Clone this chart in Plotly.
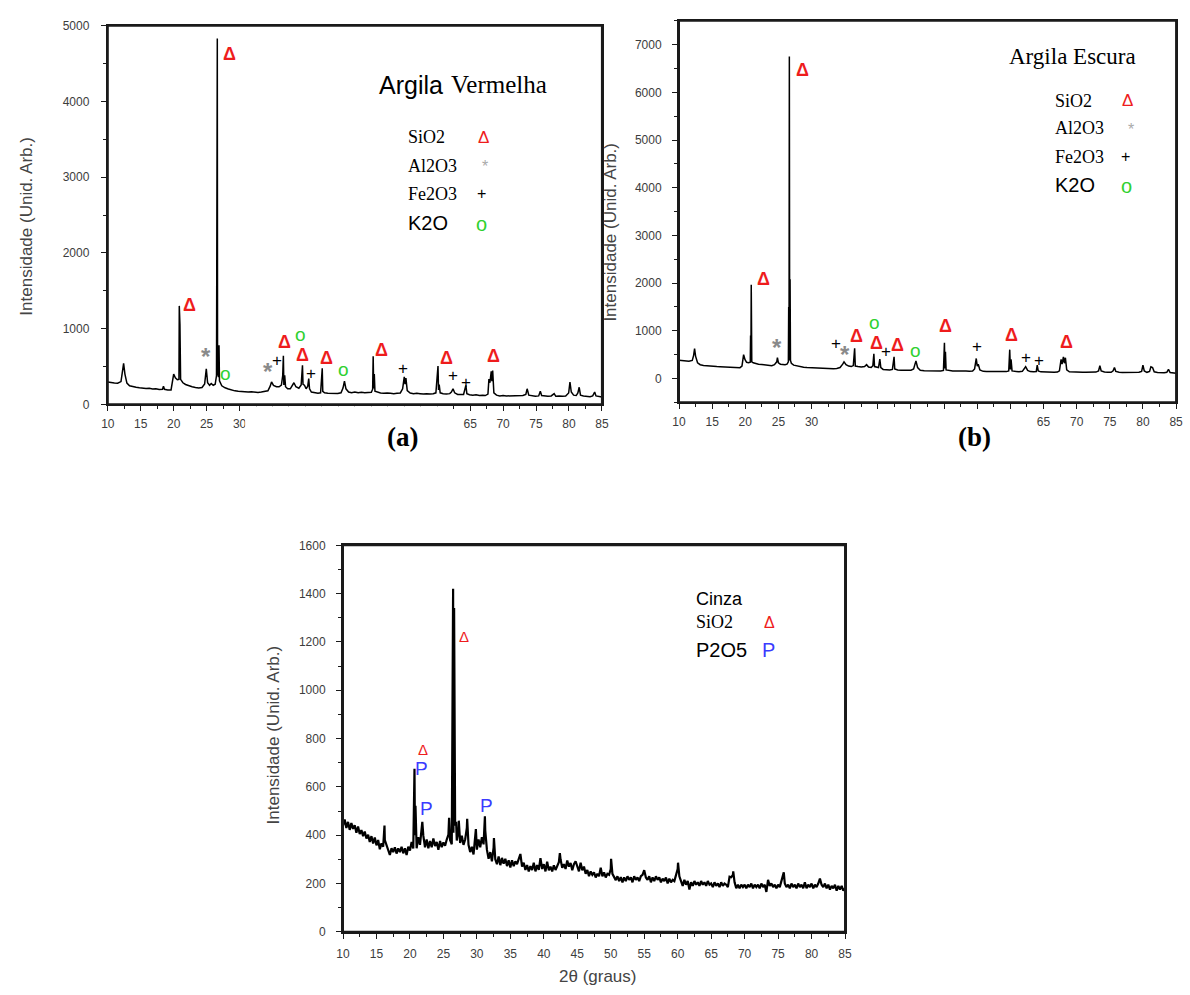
import plotly.graph_objects as go

# ---------------------------------------------------------------
# Difratogramas de raios X: (2θ em graus, intensidade em unid. arb.)
# ---------------------------------------------------------------

argila_vermelha = [
    (10.0, 295), (10.5, 285), (11.0, 282), (11.5, 278), (12.0, 300), (12.2, 420), (12.4, 540),
    (12.6, 400), (12.9, 280), (13.3, 245), (13.8, 232), (14.3, 226), (14.8, 218), (15.3, 212),
    (15.8, 208), (16.3, 212), (16.8, 203), (17.3, 206), (17.8, 197), (18.3, 200), (18.45, 240),
    (18.6, 198), (19.1, 188), (19.6, 190), (19.85, 300), (20.0, 400), (20.25, 350), (20.55, 325),
    (20.8, 330), (20.85, 1300), (20.9, 420), (20.95, 1055), (21.05, 330), (21.4, 285), (21.8, 262),
    (22.3, 243), (22.8, 232), (23.3, 222), (23.8, 216), (24.3, 222), (24.7, 270), (24.95, 470),
    (25.15, 285), (25.45, 252), (25.7, 275), (26.0, 252), (26.3, 265), (26.5, 380), (26.56, 3270),
    (26.62, 4830), (26.66, 420), (26.8, 360), (26.88, 780), (26.95, 310), (27.3, 245), (27.8, 218),
    (28.3, 203), (28.8, 188), (29.3, 178), (29.8, 172), (30.3, 168), (30.8, 172), (31.3, 162),
    (31.8, 167), (32.3, 161), (32.8, 157), (33.3, 162), (33.8, 166), (34.3, 178), (34.65, 240),
    (34.85, 295), (35.15, 250), (35.6, 232), (36.0, 232), (36.35, 255), (36.55, 380), (36.65, 640),
    (36.72, 255), (36.85, 385), (36.98, 232), (37.3, 205), (37.7, 205), (38.0, 240), (38.25, 285),
    (38.55, 232), (39.0, 212), (39.35, 255), (39.55, 515), (39.63, 265), (39.85, 252), (40.1, 205),
    (40.35, 240), (40.5, 340), (40.62, 205), (40.9, 162), (41.4, 152), (41.9, 147), (42.3, 152),
    (42.55, 475), (42.63, 172), (42.9, 152), (43.4, 147), (43.9, 142), (44.4, 147), (44.9, 142),
    (45.4, 152), (45.7, 215), (45.92, 305), (46.15, 205), (46.55, 162), (47.0, 152), (47.5, 162),
    (48.0, 152), (48.5, 160), (49.0, 152), (49.5, 156), (50.0, 160), (50.2, 200), (50.28, 636),
    (50.36, 210), (50.45, 400), (50.55, 172), (50.9, 160), (51.4, 150), (51.9, 146), (52.4, 151),
    (52.9, 146), (53.4, 141), (53.9, 146), (54.4, 150), (54.75, 205), (55.0, 362), (55.12, 265),
    (55.25, 345), (55.45, 182), (55.9, 150), (56.4, 141), (56.9, 146), (57.4, 141), (57.9, 136),
    (58.4, 141), (58.9, 136), (59.4, 141), (59.8, 152), (60.12, 505), (60.2, 190), (60.3, 260),
    (60.45, 152), (60.9, 141), (61.4, 136), (61.9, 141), (62.15, 162), (62.4, 205), (62.65, 152),
    (63.1, 131), (63.6, 127), (64.0, 131), (64.35, 250), (64.5, 141), (64.9, 127), (65.4, 121),
    (65.9, 126), (66.4, 116), (66.9, 121), (67.3, 116), (67.7, 135), (67.85, 335), (68.0, 285),
    (68.2, 435), (68.3, 305), (68.42, 445), (68.6, 152), (69.0, 121), (69.5, 111), (70.0, 116),
    (70.5, 111), (71.0, 111), (71.5, 116), (72.0, 111), (72.5, 111), (73.0, 116), (73.45, 131),
    (73.65, 205), (73.9, 121), (74.4, 111), (74.9, 106), (75.4, 111), (75.65, 172), (75.85, 116),
    (76.3, 111), (76.8, 106), (77.3, 111), (77.75, 142), (78.0, 106), (78.5, 111), (79.0, 106),
    (79.5, 111), (79.95, 150), (80.15, 295), (80.35, 162), (80.7, 121), (81.1, 116), (81.35, 150),
    (81.55, 225), (81.75, 121), (82.2, 111), (82.7, 106), (83.2, 101), (83.6, 111), (83.9, 162),
    (84.1, 111), (84.5, 101), (85.0, 96),
]

argila_escura = [
    (10.0, 385), (10.5, 375), (11.0, 370), (11.5, 360), (12.0, 380), (12.2, 480), (12.35, 625),
    (12.5, 470), (12.8, 330), (13.2, 290), (13.7, 275), (14.2, 265), (14.7, 260), (15.2, 255),
    (15.7, 250), (16.2, 248), (16.7, 245), (17.2, 240), (17.7, 238), (18.2, 232), (18.7, 230),
    (19.2, 228), (19.5, 260), (19.75, 500), (19.95, 400), (20.2, 340), (20.5, 330), (20.75, 340),
    (20.8, 900), (20.85, 360), (20.9, 1965), (20.98, 350), (21.2, 330), (21.6, 310), (22.0, 300),
    (22.5, 295), (23.0, 285), (23.5, 280), (24.0, 270), (24.4, 290), (24.75, 350), (24.85, 440),
    (25.0, 330), (25.3, 300), (25.6, 290), (26.0, 290), (26.3, 300), (26.5, 350), (26.55, 1500),
    (26.6, 380), (26.65, 6750), (26.7, 400), (26.76, 2080), (26.82, 380), (26.95, 320), (27.3, 280),
    (27.8, 260), (28.3, 245), (28.8, 235), (29.3, 230), (29.8, 225), (30.3, 220), (30.8, 215),
    (31.3, 210), (31.8, 205), (32.3, 210), (32.8, 200), (33.3, 205), (33.8, 210), (34.3, 230),
    (34.7, 300), (34.9, 350), (35.2, 290), (35.6, 260), (36.0, 250), (36.3, 270), (36.5, 632),
    (36.6, 260), (37.0, 250), (37.5, 240), (38.0, 250), (38.3, 290), (38.6, 240), (39.0, 230),
    (39.25, 270), (39.4, 520), (39.5, 250), (39.8, 240), (40.1, 230), (40.3, 405), (40.45, 230),
    (40.8, 190), (41.3, 180), (41.8, 180), (42.2, 190), (42.45, 453), (42.55, 200), (43.0, 180),
    (43.5, 175), (44.0, 178), (44.5, 172), (45.0, 175), (45.4, 200), (45.75, 370), (46.0, 230),
    (46.4, 175), (47.0, 165), (47.5, 162), (48.0, 160), (48.5, 158), (49.0, 160), (49.5, 158),
    (49.9, 170), (50.05, 750), (50.12, 210), (50.2, 560), (50.3, 180), (50.8, 165), (51.3, 160),
    (51.8, 155), (52.3, 158), (52.8, 152), (53.3, 155), (53.8, 150), (54.3, 155), (54.6, 200),
    (54.85, 420), (55.0, 260), (55.15, 300), (55.4, 180), (55.9, 150), (56.4, 148), (56.9, 145),
    (57.4, 148), (57.9, 142), (58.4, 145), (58.9, 140), (59.4, 145), (59.75, 160), (59.9, 605),
    (60.0, 190), (60.1, 400), (60.25, 160), (60.8, 145), (61.3, 140), (61.8, 150), (62.1, 200),
    (62.3, 247), (62.6, 170), (63.0, 145), (63.5, 140), (63.9, 145), (64.05, 282), (64.2, 160),
    (64.6, 140), (65.1, 135), (65.6, 138), (66.1, 135), (66.6, 132), (67.1, 135), (67.4, 160),
    (67.65, 400), (67.8, 300), (68.0, 453), (68.15, 320), (68.3, 436), (68.5, 180), (68.9, 140),
    (69.4, 135), (69.9, 132), (70.4, 135), (70.9, 130), (71.4, 132), (71.9, 128), (72.4, 130),
    (72.9, 135), (73.3, 160), (73.5, 268), (73.7, 160), (74.2, 135), (74.7, 130), (75.2, 130),
    (75.5, 160), (75.7, 233), (75.9, 150), (76.4, 130), (76.9, 128), (77.4, 130), (77.9, 135),
    (78.4, 128), (78.9, 125), (79.4, 130), (79.8, 150), (80.0, 282), (80.2, 160), (80.6, 130),
    (81.0, 150), (81.2, 247), (81.45, 230), (81.7, 140), (82.2, 125), (82.7, 120), (83.2, 122),
    (83.6, 130), (83.85, 192), (84.1, 125), (84.5, 115), (85.0, 110),
]

# Cinza: varredura de 10 a 85 graus com passo de 0.25 grau
cinza_inicio = 10.0
cinza_passo = 0.25
cinza_varredura = [
    440, 465, 430, 455, 422, 450, 426, 441, 410, 436, 405, 421, 396, 415, 386, 402, 372, 396, 366, 390,
    358, 380, 342, 366, 352, 380, 362, 336, 318, 346, 330, 350, 324, 345, 330, 352, 325, 346, 318, 352,
    336, 372, 345, 400, 346, 392, 360, 420, 398, 350, 382, 346, 376, 350, 386, 355, 372, 340, 376, 350,
    370, 356, 382, 402, 380, 362, 410, 440, 378, 420, 368, 398, 360, 382, 430, 360, 330, 352, 320, 395,
    340, 382, 350, 392, 362, 420, 340, 302, 330, 292, 350, 300, 280, 312, 276, 306, 282, 302, 272, 296,
    266, 296, 272, 292, 280, 302, 322, 270, 286, 256, 276, 250, 272, 256, 286, 250, 276, 256, 305, 260,
    280, 250, 290, 255, 270, 250, 275, 256, 270, 288, 300, 265, 280, 260, 295, 270, 285, 255, 280, 292,
    272, 250, 286, 255, 270, 240, 256, 230, 250, 236, 246, 225, 240, 230, 265, 230, 246, 225, 240, 236,
    260, 240, 226, 214, 230, 210, 226, 205, 225, 210, 230, 215, 225, 205, 230, 215, 225, 210, 230, 236,
    255, 225, 215, 230, 205, 225, 210, 230, 215, 225, 205, 220, 210, 225, 200, 220, 205, 215, 210, 240,
    260, 230, 210, 190, 215, 195, 210, 175, 205, 190, 210, 195, 205, 190, 210, 195, 205, 190, 210, 195,
    200, 185, 205, 190, 200, 185, 205, 190, 200, 195, 185, 228, 226, 235, 205, 180, 195, 180, 195, 185,
    195, 180, 195, 185, 200, 180, 195, 185, 195, 180, 200, 185, 195, 165, 215, 190, 200, 185, 195, 180,
    195, 185, 215, 232, 200, 185, 195, 180, 200, 185, 195, 180, 200, 185, 195, 180, 205, 180, 195, 185,
    200, 180, 195, 185, 200, 220, 195, 185, 200, 180, 195, 175, 190, 180, 195, 170, 190, 175, 190, 170,
    180,
]
# Reflexões estreitas da cinza (2θ, intensidade)
cinza_picos = [
    (16.2, 440), (20.68, 675), (20.83, 522), (21.85, 455), (25.85, 472), (26.45, 1420),
    (26.6, 1340), (26.9, 455), (27.3, 460), (28.55, 468), (29.85, 425), (31.2, 478),
    (32.55, 388), (42.4, 326), (50.05, 302), (60.05, 286), (68.3, 250), (75.85, 246),
]

# Identificação das fases (posição do símbolo: 2θ, intensidade)
sio2_a = [(28.5, 4630), (22.35, 1316), (36.75, 820), (39.6, 647), (43.2, 608), (51.6, 716),
          (61.4, 608), (68.5, 643)]
al2o3_a = [(24.9, 630), (34.3, 434)]
fe2o3_a = [(35.65, 574), (40.85, 410), (54.8, 468), (62.4, 382), (64.4, 282)]
k2o_a = [(27.85, 412), (39.3, 916), (45.75, 455)]

sio2_b = [(28.6, 6470), (22.76, 2080), (36.8, 887), (39.75, 742), (42.9, 694), (50.2, 1093),
          (60.2, 914), (68.45, 763)]
al2o3_b = [(24.8, 660), (35.1, 509)]
fe2o3_b = [(33.65, 728), (41.2, 557), (55.0, 674), (62.3, 440), (64.3, 385)]
k2o_b = [(39.46, 1164), (45.75, 591)]

sio2_c = [(28.1, 1223), (21.9, 755)]
p2o5_c = [(21.7, 678), (22.4, 509), (31.5, 522)]

x_rotulos_ocultos = [35, 40, 45, 50, 55, 60]

# ---------------------------------------------------------------
W, H = 1190, 995
SANS = "Liberation Sans, Arial, sans-serif"
SERIF = "Liberation Serif, Times New Roman, serif"
RED = "#ee1c1c"
GREEN = "#2fd12f"
GREY = "#8a8a8a"
BLUE = "#3b3bff"
AXIS = "#1a1a1a"

# caixas dos painéis em pixels: (esquerda, direita, base, topo) e faixas dos eixos
caixa_a, faixa_a = (102, 602, 403, 19), ([10, 85], [0, 5000])
caixa_b, faixa_b = (680, 1183, 401, 14), ([10, 85], [-500, 7500])
caixa_c, faixa_c = (340, 848, 938, 546), ([10, 85], [0, 1600])


def px(x):
    return x / W


def py(y):
    return 1 - y / H


def unzip(pairs):
    return [p[0] for p in pairs], [p[1] for p in pairs]


def cinza_serie():
    pts = [(round(cinza_inicio + i * cinza_passo, 2), v) for i, v in enumerate(cinza_varredura)]
    pts += cinza_picos
    pts.sort(key=lambda p: p[0])
    return unzip(pts)


fig = go.Figure()

xa, ya = unzip(argila_vermelha)
xb, yb = unzip(argila_escura)
xc, yc = cinza_serie()

for (xs, ys, w, xr, yr) in [(xa, ya, 1.5, "x", "y"), (xb, yb, 1.5, "x2", "y2"), (xc, yc, 2.2, "x3", "y3")]:
    fig.add_trace(go.Scatter(x=xs, y=ys, mode="lines", line=dict(color="black", width=w),
                             xaxis=xr, yaxis=yr, showlegend=False, hoverinfo="skip"))


def axis_style(caixa, faixa, horizontal, anchor, dtick, minor_dtick, standoff, hide=None):
    l, r, b, t = caixa
    domain = [px(l), px(r)] if horizontal else [py(b), py(t)]
    t0 = 10 if horizontal else 0
    d = dict(
        domain=domain, anchor=anchor, range=faixa[0] if horizontal else faixa[1],
        showline=True, linecolor=AXIS, linewidth=2, mirror=True,
        ticks="outside", ticklen=5, tickwidth=1.3, tickcolor=AXIS,
        tickmode="linear", tick0=t0, dtick=dtick,
        minor=dict(ticks="outside", ticklen=3, tickwidth=1.1, tickcolor=AXIS,
                   tickmode="linear", tick0=t0, dtick=minor_dtick),
        showgrid=False, zeroline=False, fixedrange=True,
        tickfont=dict(family=SANS, size=12, color="#3c3c3c"),
        ticklabelstandoff=standoff, tickformat="d",
    )
    if hide:
        d["labelalias"] = {str(v): " " for v in hide}
    return d


fig.update_layout(
    width=W, height=H,
    margin=dict(l=0, r=0, t=0, b=0),
    paper_bgcolor="white", plot_bgcolor="white",
    xaxis=axis_style(caixa_a, faixa_a, True, "y", 5, 2.5, 2, x_rotulos_ocultos),
    yaxis=axis_style(caixa_a, faixa_a, False, "x", 1000, 500, 9),
    xaxis2=axis_style(caixa_b, faixa_b, True, "y2", 5, 2.5, 2, x_rotulos_ocultos),
    yaxis2=axis_style(caixa_b, faixa_b, False, "x2", 1000, 500, 8),
    xaxis3=axis_style(caixa_c, faixa_c, True, "y3", 5, 2.5, 5),
    yaxis3=axis_style(caixa_c, faixa_c, False, "x3", 200, 100, 8),
)

ann = []


def text(x, y, s, size, family=SANS, color="black", xanchor="left", **kw):
    ann.append(dict(x=px(x), y=py(y), xref="paper", yref="paper", text=s, showarrow=False,
                    xanchor=xanchor, yanchor="middle",
                    font=dict(family=family, size=size, color=color), **kw))


def marks(points, xr, yr, sym, size, color):
    for (x, y) in points:
        ann.append(dict(x=x, y=y, xref=xr, yref=yr, text=sym, showarrow=False,
                        xanchor="center", yanchor="middle", borderpad=0,
                        font=dict(family=SANS, size=size, color=color)))


# símbolos sobre os picos
marks(sio2_a, "x", "y", "<b>Δ</b>", 18, RED)
marks(al2o3_a, "x", "y", "<b>*</b>", 24, GREY)
marks(fe2o3_a, "x", "y", "+", 17, "black")
marks(k2o_a, "x", "y", "o", 19, GREEN)

marks(sio2_b, "x2", "y2", "<b>Δ</b>", 18, RED)
marks(al2o3_b, "x2", "y2", "<b>*</b>", 24, GREY)
marks(fe2o3_b, "x2", "y2", "+", 17, "black")
marks(k2o_b, "x2", "y2", "o", 19, GREEN)

marks(sio2_c, "x3", "y3", "Δ", 15, RED)
marks(p2o5_c, "x3", "y3", "P", 19, BLUE)

# legendas internas — Argila Vermelha
text(443, 79, "Argila", 25, SANS, xanchor="right")
text(447, 79, "Vermelha", 25, SERIF)
text(404, 132, "SiO2", 18, SERIF)
text(482, 132, "Δ", 17, family=SANS, color=RED, xanchor="center")
text(404, 161, "Al2O3", 18, SERIF)
text(484, 162, "*", 16, family=SANS, color="#aaaaaa", xanchor="center")
text(404, 190, "Fe2O3", 18, SERIF)
text(480, 189, "+", 16, family=SANS, xanchor="center")
text(404, 219, "K2O", 20, SANS)
text(480, 220, "o", 20, family=SANS, color=GREEN, xanchor="center")

# Argila Escura
text(1078, 50, "Argila Escura", 23, SERIF, xanchor="center")
text(1058, 95, "SiO2", 18, SERIF)
text(1134, 95, "Δ", 17, family=SANS, color=RED, xanchor="center")
text(1058, 123, "Al2O3", 18, SERIF)
text(1137, 124, "*", 16, family=SANS, color="#aaaaaa", xanchor="center")
text(1058, 152, "Fe2O3", 18, SERIF)
text(1132, 152, "+", 16, family=SANS, xanchor="center")
text(1058, 181, "K2O", 20, SANS)
text(1133, 182, "o", 20, family=SANS, color=GREEN, xanchor="center")

# Cinza
text(695, 600, "Cinza", 18, SANS)
text(695, 624, "SiO2", 18, SERIF)
text(772, 624, "Δ", 16, family=SANS, color=RED, xanchor="center")
text(695, 652, "P2O5", 20, SANS)
text(771, 652, "P", 20, family=SANS, color=BLUE, xanchor="center")

# títulos dos eixos
for (x, y) in [(20, 222), (611, 228), (270, 738)]:
    text(x, y, "Intensidade (Unid. Arb.)", 17, SANS, color="#444444", xanchor="center", textangle=-90)
text(598, 983, "2θ (graus)", 17, SANS, color="#444444", xanchor="center")

# rótulos dos painéis
text(400, 436, "<b>(a)</b>", 27, SERIF, xanchor="center")
text(979, 436, "<b>(b)</b>", 27, SERIF, xanchor="center")

fig.update_layout(annotations=ann)

# moldura de cada painel
for (l, r, b, t) in (caixa_a, caixa_b, caixa_c):
    fig.add_shape(type="rect", xref="paper", yref="paper", x0=px(l), x1=px(r), y0=py(b), y1=py(t),
                  line=dict(color=AXIS, width=2), fillcolor="rgba(0,0,0,0)", layer="above")

# faixa branca sobre o trecho central da escala inferior do painel (a)
fig.add_shape(type="rect", xref="x", yref="paper", x0=30.85, x1=62.2,
              y0=py(428), y1=py(405), fillcolor="white", line=dict(width=0), layer="above")

fig.write_html("out.html")
